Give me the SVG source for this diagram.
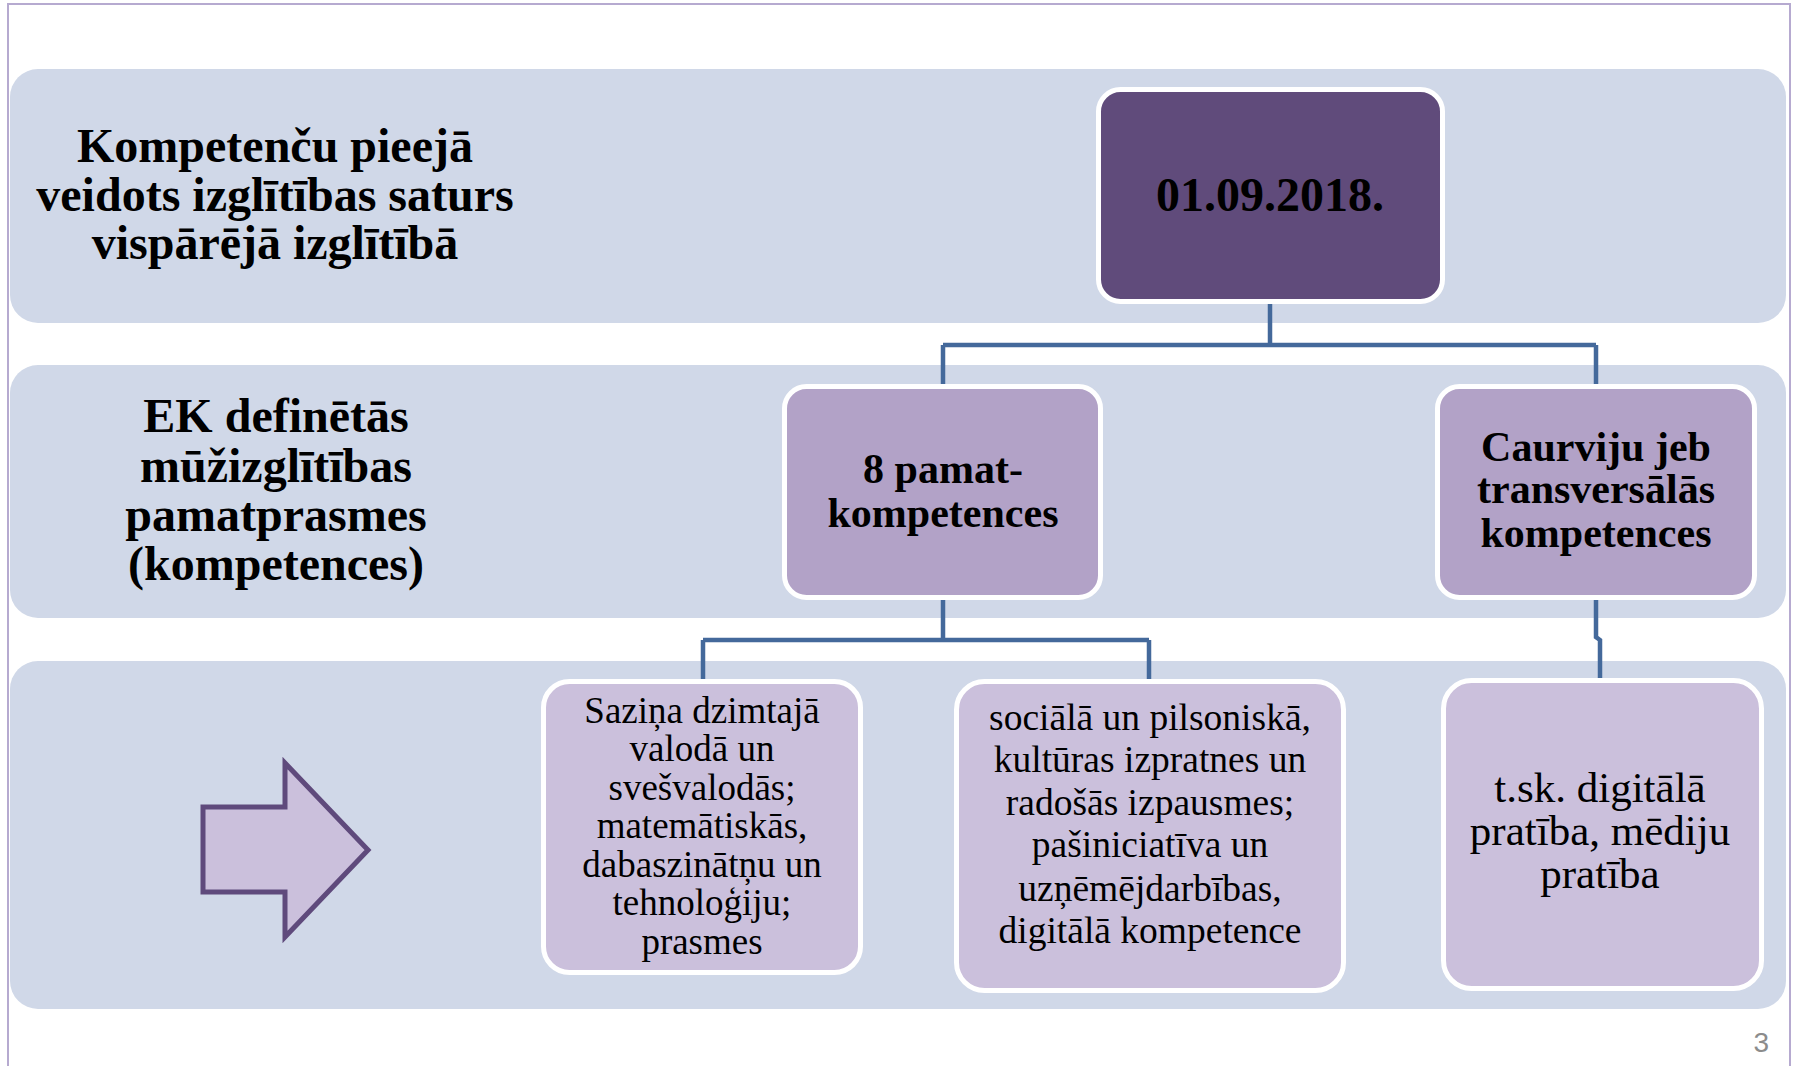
<svg xmlns="http://www.w3.org/2000/svg" width="1795" height="1066" viewBox="0 0 1795 1066">
<style>
  .band{fill:#d0d8e8;}
  .box{stroke:#ffffff;stroke-width:5;}
  .dark{fill:#604b7b;}
  .mid{fill:#b2a2c7;}
  .light{fill:#cbc0dc;}
  .conn{fill:none;stroke:#44699b;stroke-width:4.5;stroke-linejoin:miter;}
  .t{font-family:"Liberation Serif","Times New Roman",serif;fill:#000;text-anchor:middle;}
  .b{font-weight:bold;}
</style>
<rect x="0" y="0" width="1795" height="1066" fill="#ffffff"/>
<rect x="8" y="4" width="1782" height="1080" fill="none" stroke="#b6aad0" stroke-width="2"/>

<g id="bands">
  <rect class="band" x="10" y="69" width="1776" height="254" rx="28"/>
  <rect class="band" x="10" y="365" width="1776" height="253" rx="28"/>
  <rect class="band" x="10" y="661" width="1776" height="348" rx="28"/>
</g>

<g id="title1">
  <text class="t b" font-size="48" x="275" y="162">Kompetenču pieejā</text>
  <text class="t b" font-size="48" x="275" y="211">veidots izglītības saturs</text>
  <text class="t b" font-size="48" x="275" y="259">vispārējā izglītībā</text>
</g>

<g id="title2">
  <text class="t b" font-size="48" x="276" y="432">EK definētās</text>
  <text class="t b" font-size="48" x="276" y="482">mūžizglītības</text>
  <text class="t b" font-size="48" x="276" y="531">pamatprasmes</text>
  <text class="t b" font-size="48" x="276" y="580">(kompetences)</text>
</g>

<g id="connectors">
  <path class="conn" d="M1270 304 V345 M943 345 H1596 M943 345 V384 M1596 345 V384"/>
  <path class="conn" d="M943 600 V640 M703 640 H1149 M703 640 V679 M1149 640 V679"/>
  <path class="conn" d="M1596 600 V637 L1600 640 V678"/>
</g>

<g id="node-date">
  <rect class="box dark" x="1098.5" y="89.5" width="344" height="212" rx="22"/>
  <text class="t b" font-size="48" x="1270" y="211">01.09.2018.</text>
</g>

<g id="node-pamat">
  <rect class="box mid" x="784.5" y="386.5" width="316" height="211" rx="22"/>
  <text class="t b" font-size="42" x="943" y="483">8 pamat-</text>
  <text class="t b" font-size="42" x="943" y="527">kompetences</text>
</g>

<g id="node-caurviju">
  <rect class="box mid" x="1437.5" y="386.5" width="317" height="211" rx="22"/>
  <text class="t b" font-size="42" x="1596" y="461">Caurviju jeb</text>
  <text class="t b" font-size="42" x="1596" y="503">transversālās</text>
  <text class="t b" font-size="42" x="1596" y="547">kompetences</text>
</g>

<g id="arrow">
  <polygon points="203,807 285,807 285,763 368,850 285,937 285,892 203,892" fill="#cbc0dc" stroke="#5f4a7c" stroke-width="5" stroke-linejoin="miter"/>
</g>

<g id="node-sazina">
  <rect class="box light" x="543.5" y="681.5" width="317" height="291" rx="26"/>
  <text class="t" font-size="37" x="702" y="723">Saziņa dzimtajā</text>
  <text class="t" font-size="37" x="702" y="761">valodā un</text>
  <text class="t" font-size="37" x="702" y="800">svešvalodās;</text>
  <text class="t" font-size="37" x="702" y="838">matemātiskās,</text>
  <text class="t" font-size="37" x="702" y="877">dabaszinātņu un</text>
  <text class="t" font-size="37" x="702" y="915">tehnoloģiju;</text>
  <text class="t" font-size="37" x="702" y="954">prasmes</text>
</g>

<g id="node-sociala">
  <rect class="box light" x="956.5" y="681.5" width="387" height="309" rx="28"/>
  <text class="t" font-size="37.5" x="1150" y="730">sociālā un pilsoniskā,</text>
  <text class="t" font-size="37.5" x="1150" y="772">kultūras izpratnes un</text>
  <text class="t" font-size="37.5" x="1150" y="815">radošās izpausmes;</text>
  <text class="t" font-size="37.5" x="1150" y="857">pašiniciatīva un</text>
  <text class="t" font-size="37.5" x="1150" y="901">uzņēmējdarbības,</text>
  <text class="t" font-size="37.5" x="1150" y="943">digitālā kompetence</text>
</g>

<g id="node-tsk">
  <rect class="box light" x="1443.5" y="680.5" width="318" height="308" rx="28"/>
  <text class="t" font-size="43" x="1600" y="802">t.sk. digitālā</text>
  <text class="t" font-size="43" x="1600" y="845">pratība, mēdiju</text>
  <text class="t" font-size="43" x="1600" y="888">pratība</text>
</g>

<text x="1769" y="1052" font-family="'Liberation Sans',sans-serif" font-size="28" fill="#8c8c8c" text-anchor="end">3</text>
</svg>
